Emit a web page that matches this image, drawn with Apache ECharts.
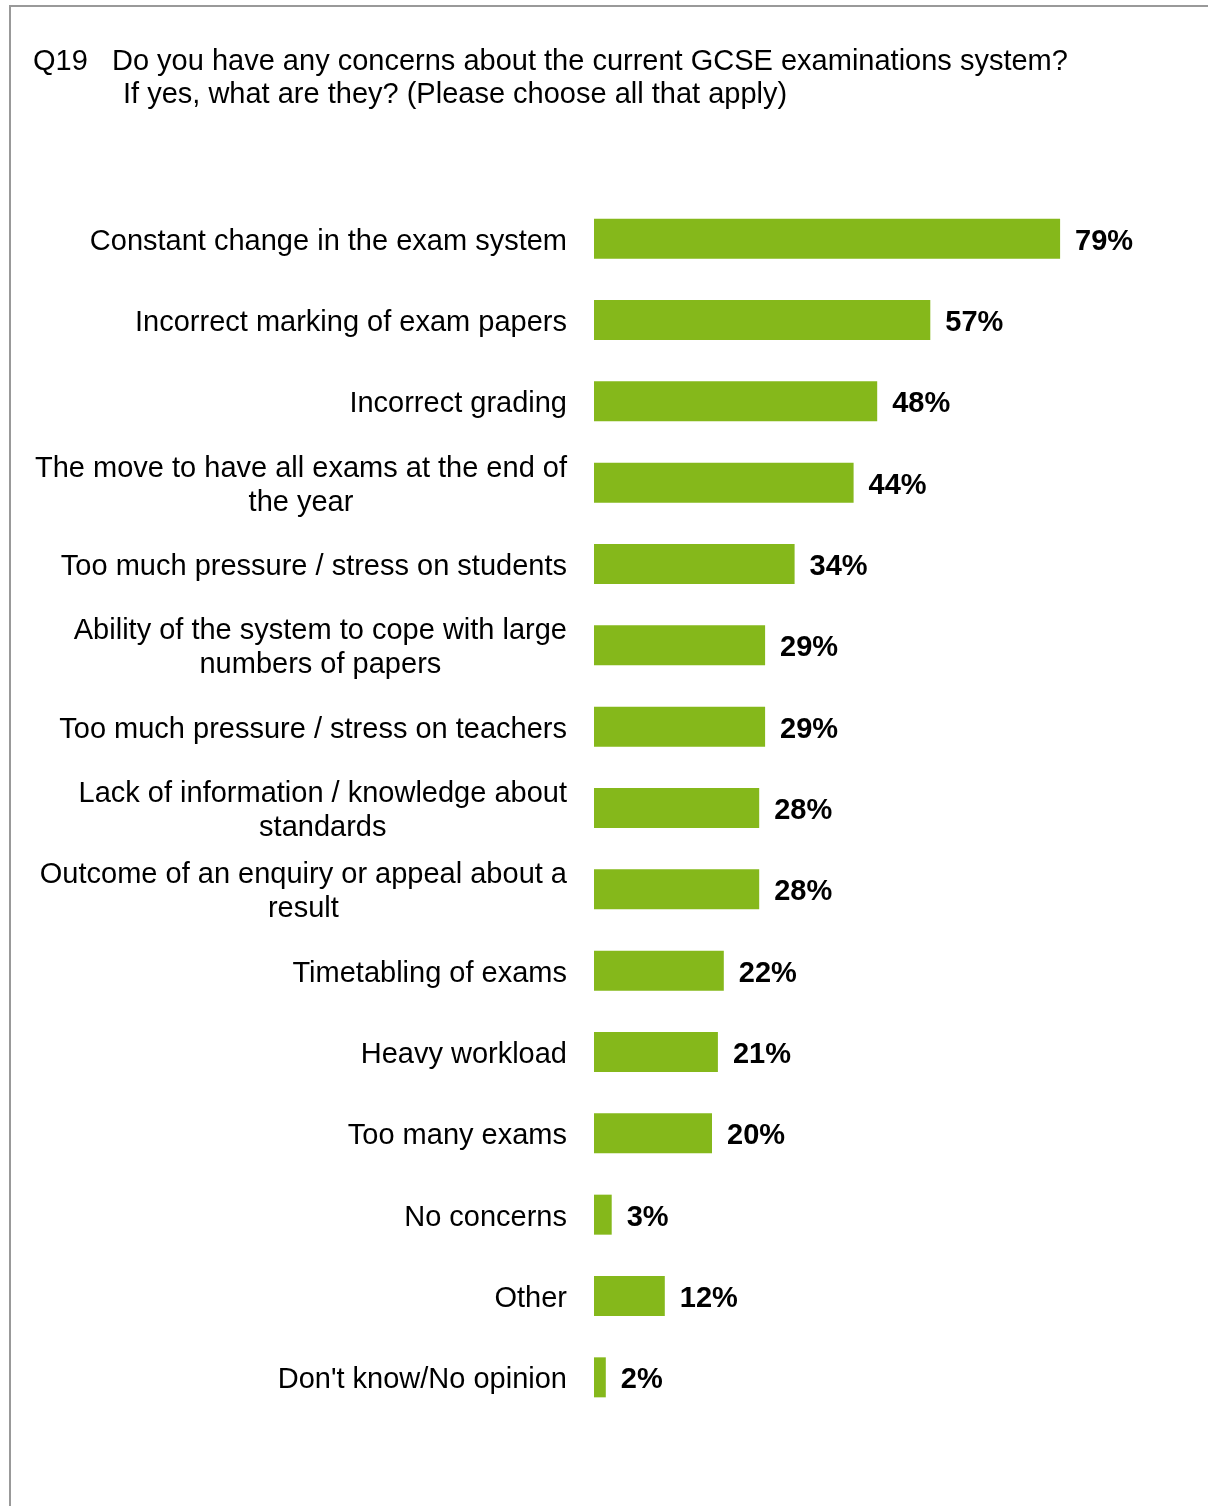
<!DOCTYPE html>
<html>
<head>
<meta charset="utf-8">
<script src="https://cdn.jsdelivr.net/npm/echarts@6/dist/echarts.min.js"></script>
<style>
  html, body { margin: 0; padding: 0; background: #fff; }
  #chart { width: 1208px; height: 1506px; }
</style>
</head>
<body>
<div id="chart"></div>
<script>
// Survey question shown as the heading
const questionLine1 = 'Q19   Do you have any concerns about the current GCSE examinations system?';
const questionLine2 = 'If yes, what are they? (Please choose all that apply)';

// Response options, top to bottom
const categories = [
  'Constant change in the exam system',
  'Incorrect marking of exam papers',
  'Incorrect grading',
  'The move to have all exams at the end of\nthe year',
  'Too much pressure / stress on students',
  'Ability of the system to cope with large\nnumbers of papers',
  'Too much pressure / stress on teachers',
  'Lack of information / knowledge about\nstandards',
  'Outcome of an enquiry or appeal about a\nresult',
  'Timetabling of exams',
  'Heavy workload',
  'Too many exams',
  'No concerns',
  'Other',
  "Don't know/No opinion"
];

// Share of respondents choosing each option (%)
const percentages = [79, 57, 48, 44, 34, 29, 29, 28, 28, 22, 21, 20, 3, 12, 2];

const chart = echarts.init(document.getElementById('chart'), null, { renderer: 'canvas' });

const FONT = '"Liberation Sans", Arial, sans-serif';
const SIZE = 29;

chart.setOption({
  backgroundColor: '#ffffff',
  animation: false,
  title: [
    {
      text: questionLine1,
      left: 33, top: 47, padding: 0,
      textStyle: { fontFamily: FONT, fontSize: SIZE, fontWeight: 'normal', color: '#000' }
    },
    {
      text: questionLine2,
      left: 123, top: 80, padding: 0,
      textStyle: { fontFamily: FONT, fontSize: SIZE, fontWeight: 'normal', color: '#000' }
    }
  ],
  graphic: [
    {
      type: 'rect',
      shape: { x: 10, y: 6, width: 1400, height: 1700 },
      style: { fill: 'none', stroke: '#999999', lineWidth: 2 },
      silent: true
    }
  ],
  grid: { left: 594, top: 198, width: 590, height: 1220, containLabel: false },
  xAxis: {
    type: 'value',
    min: 0, max: 100,
    show: false
  },
  yAxis: {
    type: 'category',
    data: categories,
    inverse: true,
    axisLine: { show: false },
    axisTick: { show: false },
    axisLabel: {
      margin: 27,
      align: 'right',
      padding: [6, 0, 0, 0],
      fontFamily: FONT,
      fontSize: SIZE,
      color: '#000',
      lineHeight: 34,
      formatter: function (v) {
        return v.split('\n').map(function (l) { return '{c|' + l + '}'; }).join('\n');
      },
      rich: {
        c: { align: 'center', fontFamily: FONT, fontSize: SIZE, color: '#000', lineHeight: 34 }
      }
    }
  },
  series: [
    {
      type: 'bar',
      data: percentages,
      barWidth: 40,
      itemStyle: { color: '#85b81b' },
      label: {
        show: true,
        position: 'right',
        distance: 15,
        offset: [0, 3],
        formatter: '{c}%',
        fontFamily: FONT,
        fontSize: SIZE,
        fontWeight: 'bold',
        color: '#000'
      }
    }
  ]
});
</script>
</body>
</html>
